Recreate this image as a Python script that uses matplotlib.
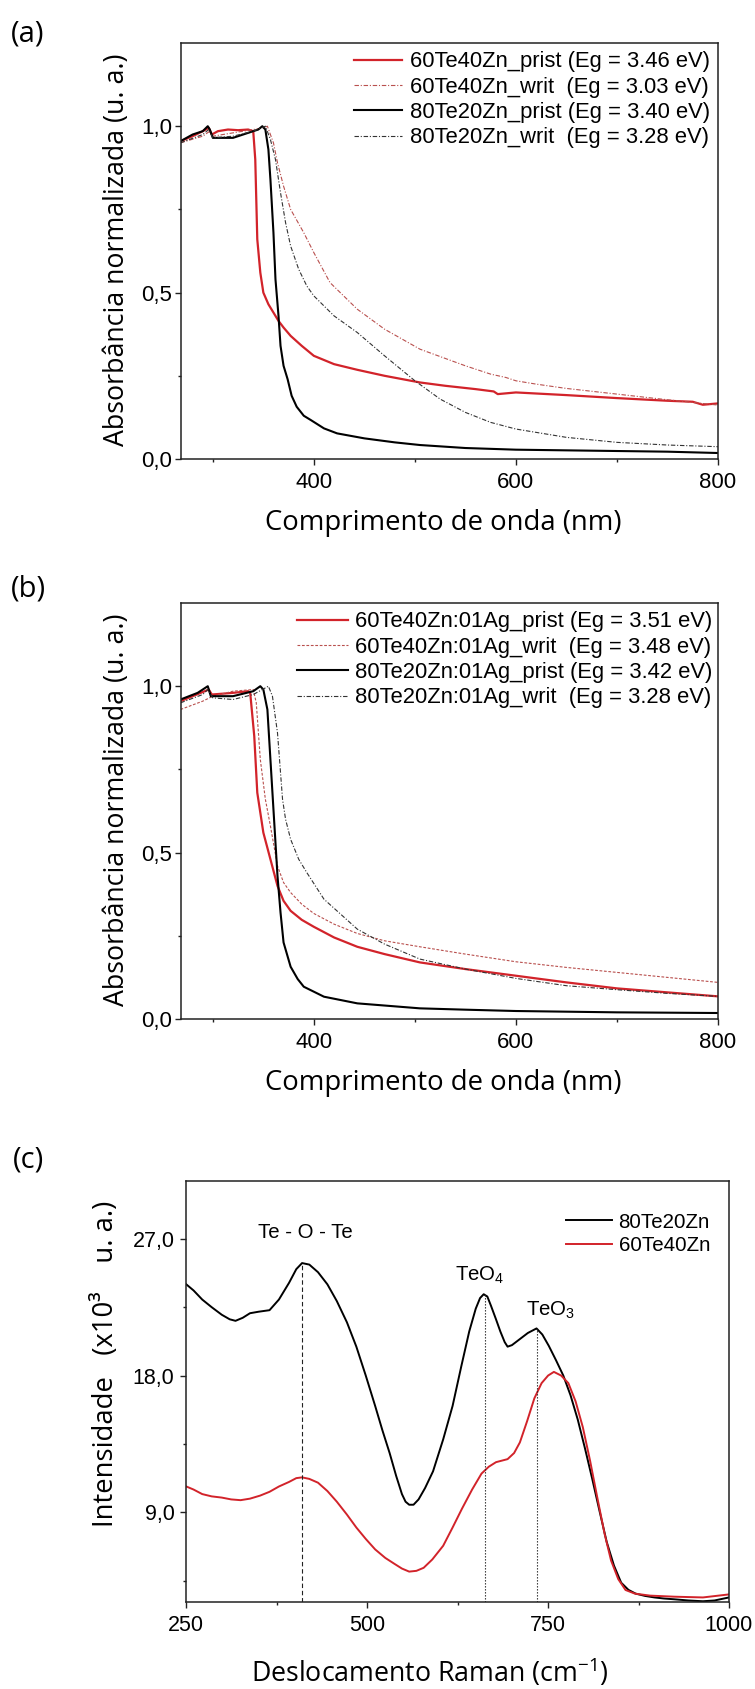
import matplotlib
matplotlib.use('Agg')
import matplotlib.pyplot as plt
from matplotlib import font_manager
from matplotlib.ticker import FixedLocator, FuncFormatter

# (a) absorbancia normalizada, amostras sem Ag
a_wl_60_prist = [268, 280, 290, 296, 299, 305, 315, 325, 335, 340, 342, 344, 347, 350, 355, 360, 365, 370,
                 377, 388, 400, 420, 443, 470, 505, 530, 560, 578, 582, 600, 650, 700, 750, 775, 785, 800]
a_ab_60_prist = [.955, .97, .985, .995, .975, .985, .99, .988, .99, .985, .9, .66, .56, .5, .465, .44, .415, .395,
                 .37, .34, .31, .285, .268, .25, .23, .22, .21, .203, .195, .2, .192, .183, .175, .172, .163, .167]
a_wl_60_writ = [268, 290, 297, 300, 320, 340, 350, 354, 360, 364, 370, 377, 390, 400, 416, 443, 470, 505,
                550, 575, 590, 600, 620, 650, 700, 750, 800]
a_ab_60_writ = [.95, .97, .985, .97, .98, .99, .995, 1.0, .95, .89, .82, .75, .68, .62, .53, .45, .39, .33,
                .28, .255, .245, .235, .225, .212, .195, .178, .162]
a_wl_80_prist = [268, 280, 290, 295, 297, 300, 310, 320, 330, 340, 345, 349, 352, 355, 357, 360, 362, 365,
                 367, 370, 374, 378, 383, 390, 397, 410, 423, 450, 480, 505, 550, 600, 650, 700, 750, 800]
a_ab_80_prist = [.955, .975, .985, 1.0, .99, .965, .965, .965, .975, .985, .99, 1.0, .99, .93, .84, .68, .54, .43,
                 .34, .28, .24, .19, .157, .13, .117, .092, .077, .062, .05, .042, .033, .028, .026, .024, .022, .018]
a_wl_80_writ = [268, 290, 296, 300, 320, 340, 352, 357, 362, 367, 372, 377, 385, 393, 400, 420, 443, 470,
                500, 525, 550, 575, 600, 650, 700, 750, 800]
a_ab_80_writ = [.95, .975, .99, .965, .97, .985, 1.0, .96, .9, .8, .71, .64, .57, .52, .49, .43, .38, .31,
                .235, .18, .14, .11, .09, .065, .05, .042, .037]
a_labels = ['60Te40Zn_prist (Eg = 3.46 eV)', '60Te40Zn_writ  (Eg = 3.03 eV)',
            '80Te20Zn_prist (Eg = 3.40 eV)', '80Te20Zn_writ  (Eg = 3.28 eV)']

# (b) absorbancia normalizada, amostras com 01Ag
b_wl_60_prist = [268, 280, 296, 299, 320, 335, 337, 341, 344, 350, 357, 364, 370, 377, 388, 400, 420, 443,
                 470, 505, 550, 600, 650, 700, 750, 800]
b_ab_60_prist = [.955, .97, .99, .975, .98, .985, .98, .85, .68, .56, .48, .4, .355, .325, .298, .277, .245, .217,
                 .195, .17, .15, .13, .11, .092, .08, .068]
b_wl_60_writ = [268, 290, 300, 320, 340, 343, 347, 352, 357, 364, 370, 377, 388, 400, 420, 443, 470, 505,
                550, 600, 650, 700, 750, 800]
b_ab_60_writ = [.93, .955, .97, .985, .99, .95, .78, .66, .58, .46, .41, .38, .345, .317, .285, .257, .235, .217,
                .195, .172, .155, .14, .125, .11]
b_wl_80_prist = [268, 285, 295, 298, 320, 340, 347, 350, 354, 359, 364, 367, 370, 377, 384, 390, 410, 443,
                 505, 550, 600, 700, 800]
b_ab_80_prist = [.96, .98, 1.0, .97, .97, .985, 1.0, .99, .93, .68, .43, .32, .23, .157, .12, .097, .067, .047,
                 .032, .028, .024, .02, .018]
b_wl_80_writ = [268, 290, 295, 300, 320, 340, 355, 359, 364, 369, 372, 377, 385, 393, 410, 443, 470, 505,
                550, 600, 650, 700, 750, 800]
b_ab_80_writ = [.95, .975, .99, .965, .96, .975, 1.0, .97, .86, .66, .6, .54, .48, .44, .36, .27, .225, .18,
                .15, .122, .1, .088, .077, .068]
b_labels = ['60Te40Zn:01Ag_prist (Eg = 3.51 eV)', '60Te40Zn:01Ag_writ  (Eg = 3.48 eV)',
            '80Te20Zn:01Ag_prist (Eg = 3.42 eV)', '80Te20Zn:01Ag_writ  (Eg = 3.28 eV)']

# (c) Raman
c_shift_80 = [250, 260, 272, 285, 299, 310, 318, 328, 338, 350, 365, 378, 392, 402, 410, 420, 432, 445,
              458, 472, 485, 498, 511, 521, 531, 540, 548, 553, 558, 564, 571, 580, 591, 605, 618, 630,
              641, 650, 656, 661, 666, 671, 678, 684, 690, 694, 700, 711, 722, 734, 742, 751, 761, 771,
              781, 791, 801, 811, 821, 831, 841, 851, 861, 871, 884, 897, 910, 924, 944, 964, 980, 1000]
c_int_80 = [24.0, 23.6, 23.0, 22.5, 22.0, 21.7, 21.6, 21.8, 22.1, 22.2, 22.3, 23.0, 24.1, 25.0, 25.4, 25.3, 24.8, 24.0,
            22.9, 21.5, 19.9, 18.0, 16.0, 14.4, 12.9, 11.4, 10.2, 9.7, 9.5, 9.5, 9.85, 10.6, 11.7, 13.8, 16.0, 18.6,
            20.9, 22.4, 23.1, 23.35, 23.2, 22.6, 21.7, 20.9, 20.2, 19.9, 20.0, 20.4, 20.8, 21.1, 20.7, 19.95, 19.0, 18.0,
            16.7, 15.1, 13.2, 11.2, 9.1, 7.05, 5.5, 4.37, 3.9, 3.65, 3.5, 3.4, 3.33, 3.28, 3.2, 3.15, 3.2, 3.4]
c_shift_60 = [250, 260, 272, 285, 299, 312, 325, 338, 352, 365, 378, 392, 402, 410, 420, 432, 445, 458,
              472, 485, 498, 511, 525, 538, 548, 558, 568, 578, 590, 605, 618, 631, 645, 658, 668, 678,
              686, 694, 703, 711, 721, 731, 741, 750, 758, 768, 778, 788, 798, 808, 818, 828, 837, 847,
              857, 870, 891, 924, 964, 1000]
c_int_60 = [10.7, 10.5, 10.2, 10.05, 9.97, 9.85, 9.8, 9.9, 10.1, 10.35, 10.7, 11.0, 11.25, 11.3, 11.2, 10.95, 10.4, 9.7,
            8.85, 8.0, 7.25, 6.56, 6.0, 5.6, 5.3, 5.1, 5.15, 5.35, 5.9, 6.8, 8.0, 9.24, 10.5, 11.55, 12.0, 12.3,
            12.4, 12.5, 12.9, 13.6, 15.0, 16.5, 17.5, 18.0, 18.24, 18.0, 17.5, 16.3, 14.6, 12.4, 9.97, 7.6, 5.83, 4.6,
            3.89, 3.65, 3.52, 3.45, 3.4, 3.6]
c_labels = ['80Te20Zn', '60Te40Zn']
band_names = ['Te - O - Te', 'TeO$_\\mathregular{4}$', 'TeO$_\\mathregular{3}$']
band_pos = [410, 663, 734]
band_top = [25.4, 23.35, 21.1]
band_text_xy = [(415, 27.4), (655, 24.6), (754, 22.3)]

RED = '#d2232a'
RED_W = '#b9504e'
names = {f.name for f in font_manager.fontManager.ttflist}
TICK_FONT = 'Liberation Sans Narrow' if 'Liberation Sans Narrow' in names else 'Liberation Sans'
LABEL_FONT = ['Open Sans', 'DejaVu Sans']
DASHDOT = (0, (4, 1.6, 1, 1.6))

comma = FuncFormatter(lambda v, p: f'{v:.1f}'.replace('.', ','))


def style_axes(ax, tick_size):
    for s in ax.spines.values():
        s.set_linewidth(1.1)
        s.set_color('#222222')
    ax.tick_params(which='both', direction='out', top=False, right=False, color='#222222', width=1.0)
    ax.tick_params(which='major', length=4.5, labelsize=tick_size, pad=3)
    ax.tick_params(which='minor', length=2.5)
    for t in ax.get_xticklabels() + ax.get_yticklabels():
        t.set_fontfamily(TICK_FONT)


def absorb_panel(ax, series, labels, leg_anchor, handle_len):
    lines = []
    for (x, y, col, lw, ls) in series:
        ln, = ax.plot(x, y, color=col, lw=lw, ls=ls)
        lines.append(ln)
    ax.set_xlim(268, 800)
    ax.set_ylim(0, 1.25)
    ax.xaxis.set_major_locator(FixedLocator([400, 600, 800]))
    ax.xaxis.set_minor_locator(FixedLocator([300, 500, 700]))
    ax.yaxis.set_major_locator(FixedLocator([0, 0.5, 1.0]))
    ax.yaxis.set_minor_locator(FixedLocator([0.25, 0.75]))
    ax.yaxis.set_major_formatter(comma)
    style_axes(ax, 16)
    ax.tick_params(axis='x', pad=5)
    ax.tick_params(axis='y', pad=1.5)
    ax.set_xlabel('Comprimento de onda (nm)', fontsize=19.8, family=LABEL_FONT, va='center')
    ax.set_ylabel('Absorbância normalizada (u. a.)', fontsize=19.3, family=LABEL_FONT, va='center')
    ax.xaxis.set_label_coords(0.488, -0.154)
    ax.yaxis.set_label_coords(-0.118, 0.502)
    ax.legend(lines, labels, loc='upper right', bbox_to_anchor=leg_anchor, frameon=False,
              prop={'family': 'Liberation Sans', 'size': 15.8}, handlelength=handle_len,
              handletextpad=0.35, labelspacing=0.2, borderpad=0, borderaxespad=0)


fig = plt.figure(figsize=(7.55, 16.89), dpi=100)
W, H = 755, 1689

ax_a = fig.add_axes([180.5 / W, 1 - 459 / H, 537.5 / W, 416 / H])
absorb_panel(ax_a, [(a_wl_60_prist, a_ab_60_prist, RED, 1.6, '-'),
                    (a_wl_60_writ, a_ab_60_writ, RED_W, 0.8, DASHDOT),
                    (a_wl_80_prist, a_ab_80_prist, 'black', 1.5, '-'),
                    (a_wl_80_writ, a_ab_80_writ, '#333333', 0.8, DASHDOT)],
             a_labels, (0.985, 0.98), 2.2)

ax_b = fig.add_axes([180.5 / W, 1 - 1019 / H, 537.5 / W, 416 / H])
absorb_panel(ax_b, [(b_wl_60_prist, b_ab_60_prist, RED, 1.6, '-'),
                    (b_wl_60_writ, b_ab_60_writ, RED_W, 0.8, (0, (2.5, 1.5))),
                    (b_wl_80_prist, b_ab_80_prist, 'black', 1.5, '-'),
                    (b_wl_80_writ, b_ab_80_writ, '#333333', 0.8, DASHDOT)],
             b_labels, (0.99, 0.98), 2.3)

ax_c = fig.add_axes([186.3 / W, 1 - 1602 / H, 542.7 / W, 421 / H])
l80, = ax_c.plot(c_shift_80, c_int_80, color='black', lw=1.4)
l60, = ax_c.plot(c_shift_60, c_int_60, color=RED, lw=1.4)
ax_c.set_xlim(250, 1000)
ax_c.set_ylim(3.1, 30.8)
for i, (xp, top) in enumerate(zip(band_pos, band_top)):
    ls = (0, (4, 2.5)) if i == 0 else (0, (1.2, 1.5))
    ax_c.plot([xp, xp], [3.1, top], color='#222222', lw=0.8, ls=ls)
for name, (tx, ty) in zip(band_names, band_text_xy):
    ax_c.text(tx, ty, name, ha='center', va='center', fontsize=14.7, family='Liberation Sans')
ax_c.xaxis.set_major_locator(FixedLocator([250, 500, 750, 1000]))
ax_c.xaxis.set_minor_locator(FixedLocator([375, 625, 875]))
ax_c.yaxis.set_major_locator(FixedLocator([9, 18, 27]))
ax_c.yaxis.set_minor_locator(FixedLocator([4.5, 13.5, 22.5]))
ax_c.yaxis.set_major_formatter(comma)
style_axes(ax_c, 15.5)
ax_c.tick_params(axis='x', pad=5)
ax_c.tick_params(axis='y', pad=4)
ax_c.set_xlabel('Deslocamento Raman (cm$^\\mathregular{-1}$)', fontsize=19.3, family=LABEL_FONT, va='center')
ax_c.set_ylabel('Intensidade   (x10³    u. a.)', fontsize=19.8, family=LABEL_FONT, va='center')
ax_c.xaxis.set_label_coords(0.449, -0.169)
ax_c.yaxis.set_label_coords(-0.148, 0.566)
ax_c.legend([l80, l60], c_labels, loc='upper right', bbox_to_anchor=(0.965, 0.925), frameon=False,
            prop={'family': 'Liberation Sans', 'size': 14.8}, handlelength=2.2,
            handletextpad=0.34, labelspacing=0.22, borderpad=0, borderaxespad=0)

for lab, yc in zip(['(a)', '(b)', '(c)'], [34, 589, 1160]):
    fig.text(28 / W, 1 - yc / H, lab, ha='center', va='center', fontsize=21, family=LABEL_FONT)

fig.savefig('out.png', dpi=100)
